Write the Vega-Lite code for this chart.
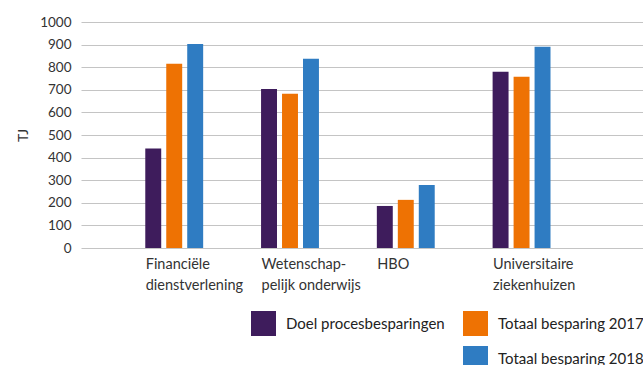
{
  "$schema": "https://vega.github.io/schema/vega-lite/v6.json",
  "autosize": "none",
  "width": 562,
  "height": 226,
  "padding": {"left": 81, "top": 22, "right": 0, "bottom": 117},
  "background": "white",
  "config": {
    "font": "Lato",
    "view": {"stroke": null},
    "axis": {"labelFont": "Lato", "titleFont": "Lato", "labelColor": "#333333", "titleColor": "#333333"},
    "legend": {"labelFont": "Lato"}
  },
  "data": {
    "values": [
      {"sector": "Financiële dienstverlening", "reeks": "Doel procesbesparingen", "tj": 440},
      {"sector": "Financiële dienstverlening", "reeks": "Totaal besparing 2017", "tj": 815},
      {"sector": "Financiële dienstverlening", "reeks": "Totaal besparing 2018", "tj": 903},
      {"sector": "Wetenschappelijk onderwijs", "reeks": "Doel procesbesparingen", "tj": 704},
      {"sector": "Wetenschappelijk onderwijs", "reeks": "Totaal besparing 2017", "tj": 682},
      {"sector": "Wetenschappelijk onderwijs", "reeks": "Totaal besparing 2018", "tj": 837},
      {"sector": "HBO", "reeks": "Doel procesbesparingen", "tj": 186},
      {"sector": "HBO", "reeks": "Totaal besparing 2017", "tj": 213},
      {"sector": "HBO", "reeks": "Totaal besparing 2018", "tj": 279},
      {"sector": "Universitaire ziekenhuizen", "reeks": "Doel procesbesparingen", "tj": 780},
      {"sector": "Universitaire ziekenhuizen", "reeks": "Totaal besparing 2017", "tj": 758},
      {"sector": "Universitaire ziekenhuizen", "reeks": "Totaal besparing 2018", "tj": 891}
    ]
  },
  "mark": {"type": "bar"},
  "encoding": {
    "x": {
      "field": "sector",
      "type": "nominal",
      "sort": null,
      "scale": {"paddingInner": 0.5, "paddingOuter": 0.677, "align": 0.41},
      "axis": {
        "title": null,
        "labelAngle": 0,
        "labelAlign": "left",
        "labelBaseline": "top",
        "labelOffset": -28.5,
        "labelPadding": 9,
        "labelFontSize": 14.5,
        "labelLineHeight": 21,
        "labelExpr": "datum.value == 'Wetenschappelijk onderwijs' ? ['Wetenschap-', 'pelijk onderwijs'] : split(datum.value, ' ')",
        "ticks": false,
        "domain": false,
        "grid": false
      }
    },
    "xOffset": {
      "field": "reeks",
      "type": "nominal",
      "scale": {"paddingInner": 0.24, "paddingOuter": 0}
    },
    "y": {
      "field": "tj",
      "type": "quantitative",
      "scale": {"domain": [0, 1000]},
      "axis": {
        "title": "TJ",
        "titleFontSize": 14,
        "titleFontWeight": "normal",
        "titlePadding": 9,
        "format": "d",
        "values": [0, 100, 200, 300, 400, 500, 600, 700, 800, 900, 1000],
        "labelFontSize": 13.5,
        "labelPadding": 10,
        "ticks": false,
        "domain": false,
        "gridColor": "#c4c4c4",
        "gridWidth": 1.2
      }
    },
    "color": {
      "field": "reeks",
      "type": "nominal",
      "scale": {
        "domain": ["Doel procesbesparingen", " ", "Totaal besparing 2017", "Totaal besparing 2018"],
        "range": ["#3e1c5c", "#ffffff", "#ee7203", "#2f7cc2"]
      },
      "legend": {
        "title": null,
        "orient": "none",
        "legendX": 170,
        "legendY": 289,
        "columns": 2,
        "symbolType": "square",
        "symbolSize": 625,
        "symbolStrokeWidth": 0,
        "labelFontSize": 15,
        "labelColor": "#222222",
        "labelOffset": 10,
        "rowPadding": 10,
        "columnPadding": 18,
        "padding": 0
      }
    }
  }
}
